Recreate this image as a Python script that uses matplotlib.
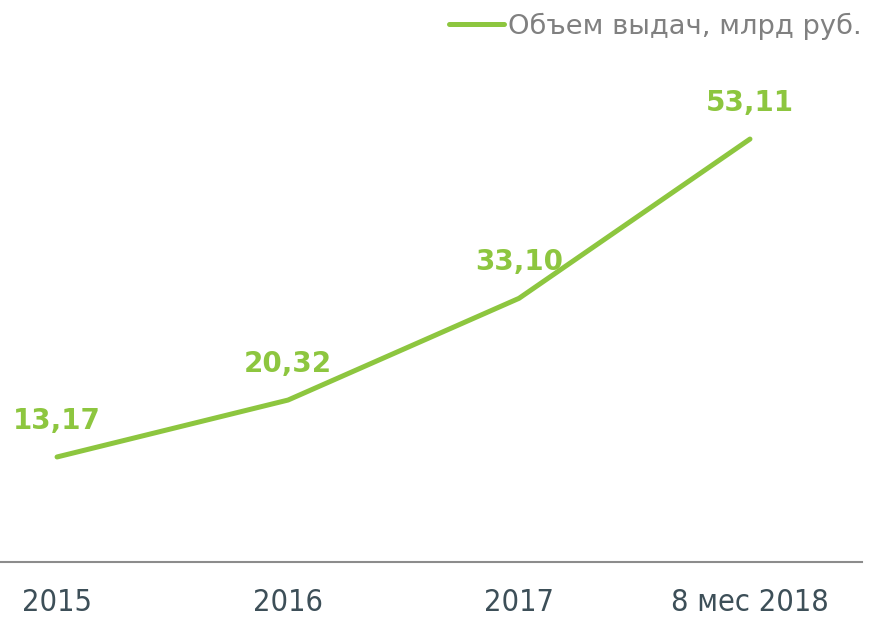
import matplotlib
matplotlib.use("Agg")
import matplotlib.pyplot as plt

categories = ["2015", "2016", "2017", "8 мес 2018"]
values = [13.17, 20.32, 33.10, 53.11]
value_labels = ["13,17", "20,32", "33,10", "53,11"]
series_name = "Объем выдач, млрд руб."

GREEN = "#8DC63F"
W, H = 875, 617
fig = plt.figure(figsize=(W / 100, H / 100), dpi=100)
ax = fig.add_axes([0, 1 - 561.8 / H, 862 / W, (561.8 - 40) / H])

x = list(range(len(categories)))
line, = ax.plot(x, values, color=GREEN, lw=3.6, solid_capstyle="round", label=series_name)
for xi, v, lab in zip(x, values, value_labels):
    ax.annotate(lab, (xi, v), xytext=(0, 26), textcoords="offset points",
                ha="center", va="center", fontsize=20, fontweight="bold",
                color=GREEN, family="DejaVu Sans")

ax.set_xlim(-0.247, 3.485)
ax.set_ylim(0, (561.8 - 40) / 7.96)
ax.set_xticks(x)
ax.set_xticklabels(categories, fontsize=22, color="#3d4f58",
                   family="DejaVu Sans", fontstretch="condensed")
ax.tick_params(axis="x", length=0, pad=19)
ax.set_yticks([])
for s in ["top", "right", "left"]:
    ax.spines[s].set_visible(False)
ax.spines["bottom"].set_color("#8c8c8c")
ax.spines["bottom"].set_linewidth(1.5)

leg = fig.legend(handles=[line], loc="center right", bbox_to_anchor=(862 / W, 1 - 26 / H),
                 frameon=False, fontsize=19.7, handlelength=2.0, handletextpad=0.15,
                 borderpad=0, borderaxespad=0)
for t in leg.get_texts():
    t.set_color("#808080")

fig.savefig("out.png", dpi=100)
